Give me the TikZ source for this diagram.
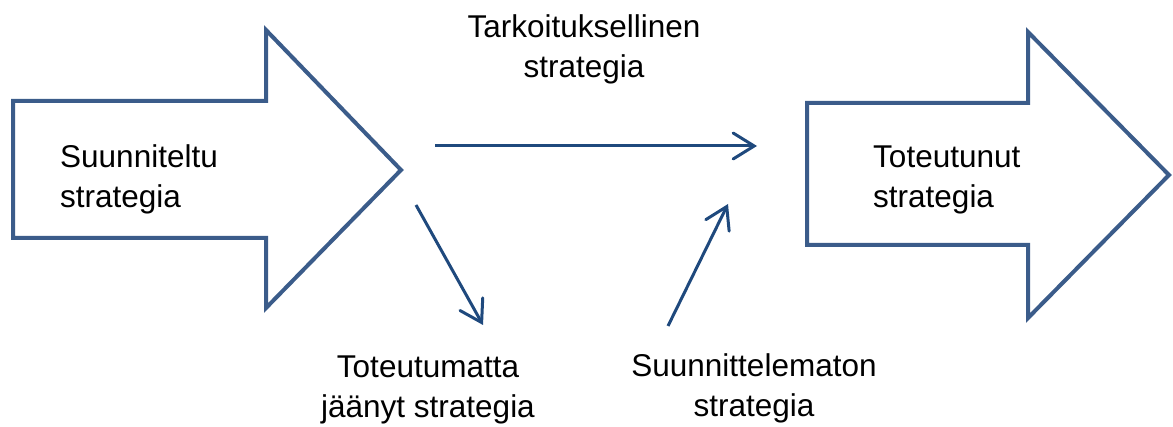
\documentclass[tikz,border=0pt]{standalone}
\usepackage{fontspec}
\setmainfont{Liberation Sans}
\usetikzlibrary{arrows.meta}
\definecolor{boxblue}{HTML}{3B5C8A}
\definecolor{linkblue}{HTML}{1F497D}
\tikzset{
  bigarrow/.style={draw=boxblue, line width=4pt, line join=miter, fill=white},
  link/.style={draw=linkblue, line width=3pt, -{Straight Barb[length=21pt,width=26pt,line cap=round]}},
  label/.style={inner sep=0pt, font=\fontsize{31.5}{40.5}\selectfont, align=center},
  leftlabel/.style={inner sep=0pt, font=\fontsize{31.5}{40.5}\selectfont, align=left}
}
\begin{document}
\begin{tikzpicture}[x=1pt,y=-1pt]
\useasboundingbox (0,0) rectangle (1173,427);
% left big arrow
\draw[bigarrow] (13,101) -- (266,101) -- (266,30) -- (401,170) -- (266,308) -- (266,238) -- (13,238) -- cycle;
% right big arrow
\draw[bigarrow] (807,103) -- (1028,103) -- (1028,32) -- (1169,175) -- (1028,318) -- (1028,245) -- (807,245) -- cycle;
% labels (anchor = baseline of last line)
\node[leftlabel, anchor=base west] (plan) at (60,208) {Suunniteltu\\strategia};
\node[leftlabel, anchor=base west] (real) at (873,208) {Toteutunut\\strategia};
\node[label, anchor=base] (intend) at (584,78) {Tarkoituksellinen\\strategia};
\node[label, anchor=base] (unreal) at (428,418) {Toteutumatta\\jäänyt strategia};
\node[label, anchor=base] (emerg) at (754,417) {Suunnittelematon\\strategia};
% connector end points
\coordinate (h1) at (435,146);
\coordinate (h2) at (757,146);
\coordinate (d1) at (416,205);
\coordinate (d2) at (483,325);
\coordinate (u1) at (668,326);
\coordinate (u2) at (728,204);
\draw[link] (h1) -- (h2);
\draw[link] (d1) -- (d2);
\draw[link] (u1) -- (u2);
\end{tikzpicture}
\end{document}
